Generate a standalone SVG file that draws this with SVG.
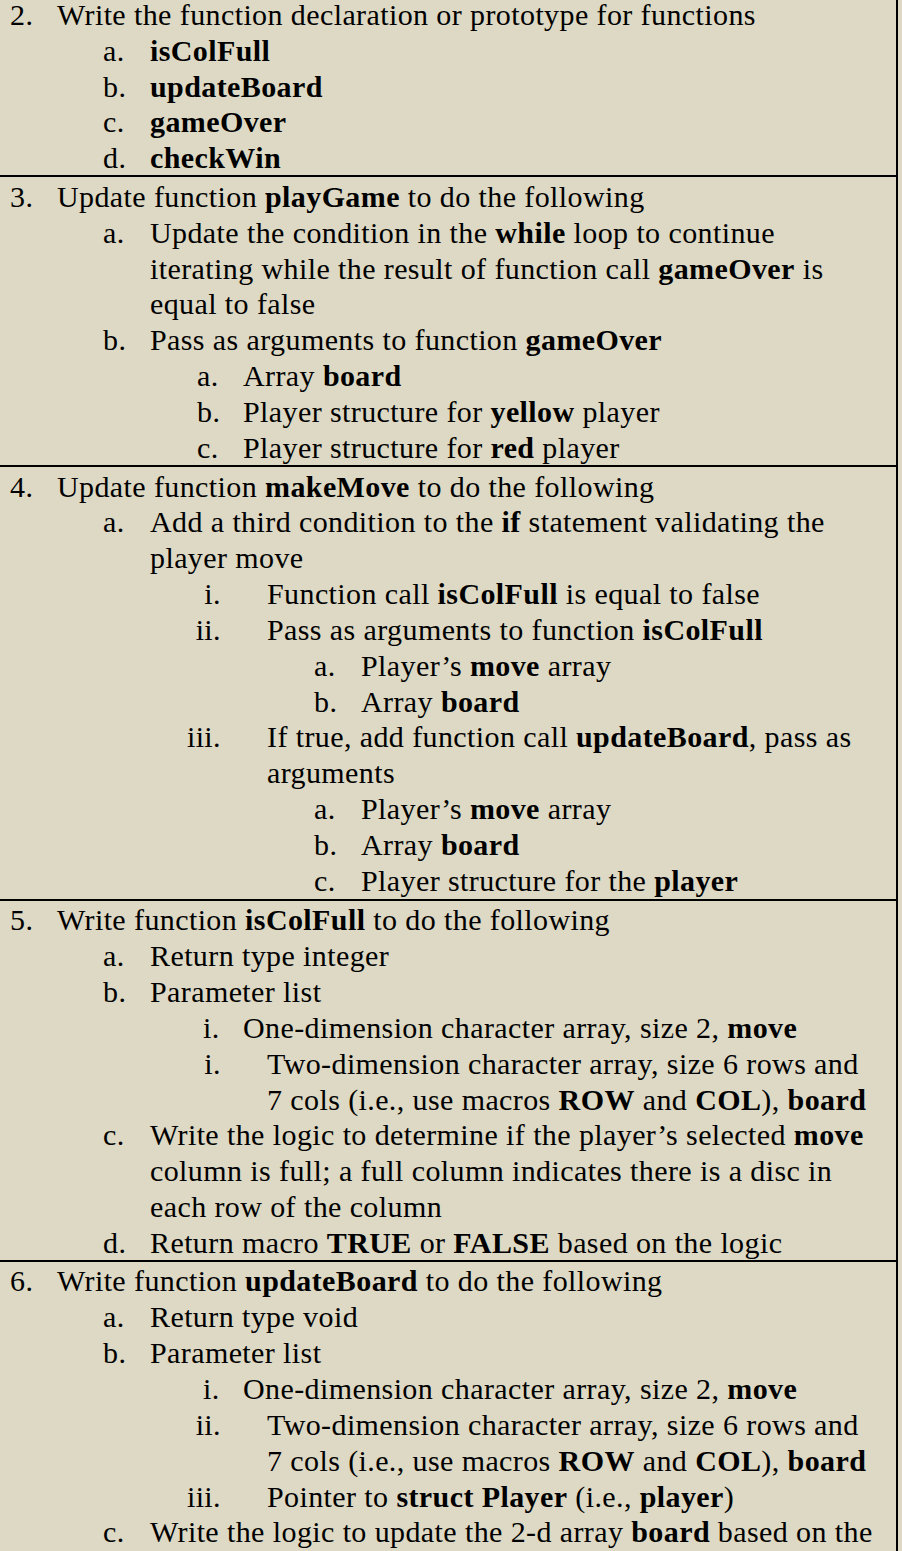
<svg xmlns="http://www.w3.org/2000/svg" width="902" height="1551" viewBox="0 0 902 1551">
<style>
text{font-family:"Liberation Serif","Times New Roman",serif;font-size:30px;letter-spacing:0.4px;fill:#000}
.b{font-weight:bold}
line{stroke:#000;stroke-width:2}
</style>
<rect x="0" y="0" width="902" height="1551" fill="#ddd9c4"/>
<g id="borders">
<line x1="897" y1="0" x2="897" y2="1551"/>
<line x1="0" y1="176" x2="898" y2="176"/>
<line x1="0" y1="466" x2="898" y2="466"/>
<line x1="0" y1="900" x2="898" y2="900"/>
<line x1="0" y1="1261" x2="898" y2="1261"/>
</g>
<g id="row2">
<text x="10" y="25">2.</text><text x="57" y="25">Write the function declaration or prototype for functions</text>
<text x="103" y="61">a.</text><text x="150" y="61" class="b">isColFull</text>
<text x="103" y="97">b.</text><text x="150" y="97" class="b">updateBoard</text>
<text x="103" y="132">c.</text><text x="150" y="132" class="b">gameOver</text>
<text x="103" y="168">d.</text><text x="150" y="168" class="b">checkWin</text>
</g>
<g id="row3">
<text x="10" y="207">3.</text><text x="57" y="207">Update function <tspan class="b">playGame</tspan> to do the following</text>
<text x="103" y="243">a.</text><text x="150" y="243">Update the condition in the <tspan class="b">while</tspan> loop to continue</text>
<text x="150" y="279">iterating while the result of function call <tspan class="b">gameOver</tspan> is</text>
<text x="150" y="314">equal to false</text>
<text x="103" y="350">b.</text><text x="150" y="350">Pass as arguments to function <tspan class="b">gameOver</tspan></text>
<text x="197" y="386">a.</text><text x="243" y="386">Array <tspan class="b">board</tspan></text>
<text x="197" y="422">b.</text><text x="243" y="422">Player structure for <tspan class="b">yellow</tspan> player</text>
<text x="197" y="458">c.</text><text x="243" y="458">Player structure for <tspan class="b">red</tspan> player</text>
</g>
<g id="row4">
<text x="10" y="497">4.</text><text x="57" y="497">Update function <tspan class="b">makeMove</tspan> to do the following</text>
<text x="103" y="532">a.</text><text x="150" y="532">Add a third condition to the <tspan class="b">if</tspan> statement validating the</text>
<text x="150" y="568">player move</text>
<text x="221" y="604" text-anchor="end">i.</text><text x="267" y="604">Function call <tspan class="b">isColFull</tspan> is equal to false</text>
<text x="221" y="640" text-anchor="end">ii.</text><text x="267" y="640">Pass as arguments to function <tspan class="b">isColFull</tspan></text>
<text x="314" y="676">a.</text><text x="361" y="676">Player’s <tspan class="b">move</tspan> array</text>
<text x="314" y="712">b.</text><text x="361" y="712">Array <tspan class="b">board</tspan></text>
<text x="221" y="747" text-anchor="end">iii.</text><text x="267" y="747">If true, add function call <tspan class="b">updateBoard</tspan>, pass as</text>
<text x="267" y="783">arguments</text>
<text x="314" y="819">a.</text><text x="361" y="819">Player’s <tspan class="b">move</tspan> array</text>
<text x="314" y="855">b.</text><text x="361" y="855">Array <tspan class="b">board</tspan></text>
<text x="314" y="891">c.</text><text x="361" y="891">Player structure for the <tspan class="b">player</tspan></text>
</g>
<g id="row5">
<text x="10" y="930">5.</text><text x="57" y="930">Write function <tspan class="b">isColFull</tspan> to do the following</text>
<text x="103" y="966">a.</text><text x="150" y="966">Return type integer</text>
<text x="103" y="1002">b.</text><text x="150" y="1002">Parameter list</text>
<text x="203" y="1038">i.</text><text x="243" y="1038">One-dimension character array, size 2, <tspan class="b">move</tspan></text>
<text x="221" y="1074" text-anchor="end">i.</text><text x="267" y="1074">Two-dimension character array, size 6 rows and</text>
<text x="267" y="1110">7 cols (i.e., use macros <tspan class="b">ROW</tspan> and <tspan class="b">COL</tspan>), <tspan class="b">board</tspan></text>
<text x="103" y="1145">c.</text><text x="150" y="1145">Write the logic to determine if the player’s selected <tspan class="b">move</tspan></text>
<text x="150" y="1181">column is full; a full column indicates there is a disc in</text>
<text x="150" y="1217">each row of the column</text>
<text x="103" y="1253">d.</text><text x="150" y="1253">Return macro <tspan class="b">TRUE</tspan> or <tspan class="b">FALSE</tspan> based on the logic</text>
</g>
<g id="row6">
<text x="10" y="1291">6.</text><text x="57" y="1291">Write function <tspan class="b">updateBoard</tspan> to do the following</text>
<text x="103" y="1327">a.</text><text x="150" y="1327">Return type void</text>
<text x="103" y="1363">b.</text><text x="150" y="1363">Parameter list</text>
<text x="203" y="1399">i.</text><text x="243" y="1399">One-dimension character array, size 2, <tspan class="b">move</tspan></text>
<text x="221" y="1435" text-anchor="end">ii.</text><text x="267" y="1435">Two-dimension character array, size 6 rows and</text>
<text x="267" y="1471">7 cols (i.e., use macros <tspan class="b">ROW</tspan> and <tspan class="b">COL</tspan>), <tspan class="b">board</tspan></text>
<text x="221" y="1507" text-anchor="end">iii.</text><text x="267" y="1507">Pointer to <tspan class="b">struct Player</tspan> (i.e., <tspan class="b">player</tspan>)</text>
<text x="103" y="1542">c.</text><text x="150" y="1542">Write the logic to update the 2-d array <tspan class="b">board</tspan> based on the</text>
</g>
</svg>
